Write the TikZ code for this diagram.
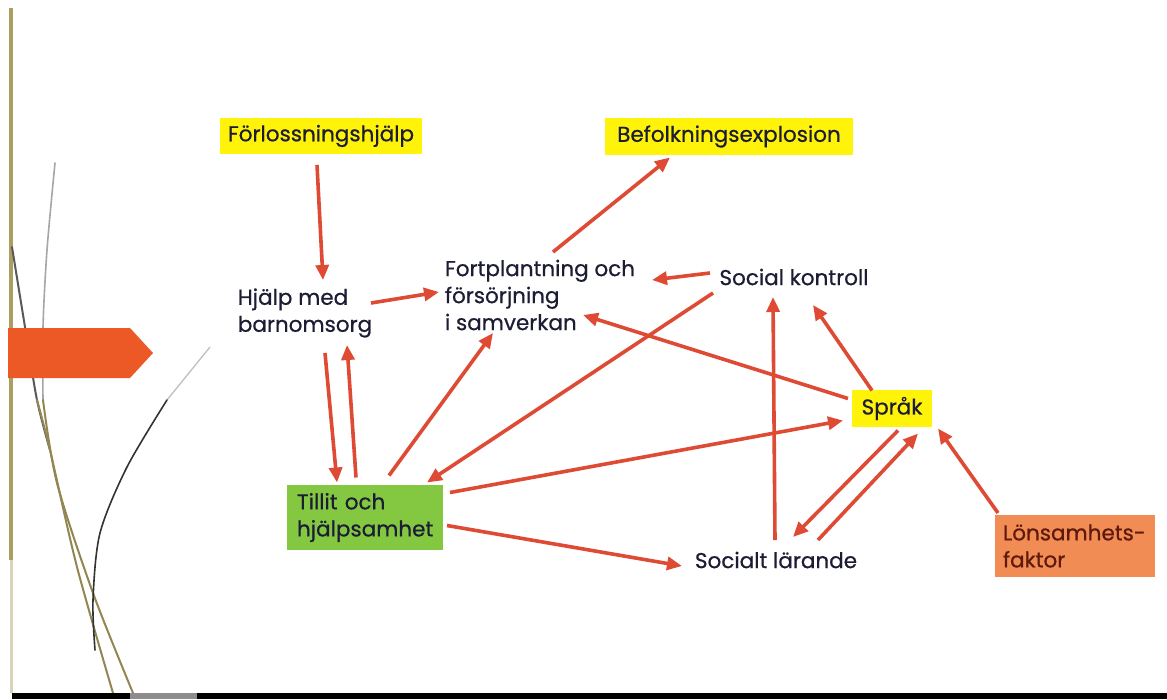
\documentclass[tikz,border=0pt]{standalone}
\usepackage{fontspec}
\setmainfont{Poppins}[FakeBold=0.6]
\usetikzlibrary{arrows.meta,calc}
\definecolor{arrred}{RGB}{222,74,52}
\definecolor{txtc}{RGB}{28,28,52}
\definecolor{ybox}{RGB}{255,243,10}
\definecolor{gbox}{RGB}{132,200,66}
\definecolor{obox}{RGB}{240,140,84}
\definecolor{otxt}{RGB}{95,25,12}
\definecolor{tanc}{RGB}{172,158,96}
\definecolor{leftarr}{RGB}{236,88,38}
\begin{document}
\begin{tikzpicture}[x=1pt,y=-1pt,
  every node/.style={font=\fontsize{21.5}{27}\selectfont, text=txtc},
  arr/.style={draw=arrred, line width=3.6pt, -{Triangle[length=15pt,width=13pt]}},
  ybx/.style={fill=ybox, inner sep=0pt, align=center},
  plain/.style={inner sep=0pt, align=left},
  deco/.style={line width=2pt, line cap=round}]
\useasboundingbox (0,0) rectangle (1167,699);
\fill[white] (0,0) rectangle (1167,699);

% decorative lines
\draw[tanc, line width=4.5pt] (11,8) -- (11,560);
\draw[tanc!45, line width=3pt] (11,560) -- (11,693);
\draw[deco, color=black!65] plot[smooth] coordinates {(12,247) (25,327) (37,400) (50,450)};
\draw[deco, color=tanc!85!black] plot[smooth] coordinates {(37,400) (50,450) (77,567) (113,693)};
\draw[deco, color=black!35, line width=1.6pt] plot[smooth] coordinates {(55,163) (47,250) (43,327) (43,400)};
\draw[deco, color=tanc!85!black] plot[smooth] coordinates {(43,400) (57,483) (93,593) (133,693)};
\draw[deco, color=black!25, line width=1.3pt] (210,347) -- (167,400);
\draw[deco, color=black!80, line width=1.6pt] plot[smooth] coordinates {(167,400) (127,467) (100,533) (93,600) (95,650)};
\fill[black] (12,693) rectangle (1167,699);
\fill[black!45] (130,693) rectangle (197,699);
\fill[leftarr] (8,328) -- (130,328) -- (153,353) -- (130,378) -- (8,378) -- cycle;

% nodes
\node[ybx, minimum width=202pt, minimum height=36pt] (forl) at (321,136) {Förlossningshjälp};
\node[ybx, minimum width=248pt, minimum height=37pt] (bef) at (729,136.5) {Befolkningsexplosion};
\node[plain] (hjalp) at (305,313) {Hjälp med\\barnomsorg};
\node[plain] (fort) at (540,295) {Fortplantning och\\försörjning\\i samverkan};
\node[plain] (sock) at (794,277) {Social kontroll};
\node[ybx, minimum width=80pt, minimum height=37pt] (sprak) at (892,408.5) {Språk};
\node[fill=gbox, align=left, inner xsep=10pt, inner ysep=0pt, text width=136pt, minimum height=65pt] (tillit) at (365,517.5) {Tillit och\\hjälpsamhet};
\node[plain] (socl) at (776,560) {Socialt lärande};
\node[fill=obox, align=left, text=otxt, inner xsep=8pt, inner ysep=0pt, text width=144pt, minimum height=62pt] (lons) at (1075,546) {Lönsamhets-\\faktor};

% connectors
\draw[arr] ($(forl.center)+(-4,29)$) -- ($(hjalp.center)+(18,-33)$);
\draw[arr] ($(hjalp.center)+(66,-10)$) -- ($(fort.center)+(-101,-3)$);
\draw[arr] ($(hjalp.center)+(20,40)$) -- ($(tillit.center)+(-28,-35)$);
\draw[arr] ($(tillit.center)+(-9,-40)$) -- ($(hjalp.center)+(42,32)$);
\draw[arr] ($(tillit.center)+(24,-42)$) -- ($(fort.center)+(-47,38)$);
\draw[arr] ($(fort.center)+(13,-43)$) -- ($(bef.center)+(-59,21)$);
\draw[arr] ($(sock.center)+(-84,-4)$) -- ($(fort.center)+(112,-15)$);
\draw[arr] ($(sock.center)+(-81,16)$) -- ($(tillit.center)+(62,-35)$);
\draw[arr] ($(sprak.center)+(-44,-10)$) -- ($(fort.center)+(43,20)$);
\draw[arr] ($(tillit.center)+(85,-25)$) -- ($(sprak.center)+(-49,12)$);
\draw[arr] ($(tillit.center)+(82,8)$) -- ($(socl.center)+(-94,6)$);
\draw[arr] ($(socl.center)+(-1,-20)$) -- ($(sock.center)+(-21,20)$);
\draw[arr] ($(sprak.center)+(-20,-18)$) -- ($(sock.center)+(19,28)$);
\draw[arr] ($(sprak.center)+(6,22)$) -- ($(socl.center)+(17,-23)$);
\draw[arr] ($(socl.center)+(42,-20)$) -- ($(sprak.center)+(26,25)$);
\draw[arr] ($(lons.center)+(-77,-33)$) -- ($(sprak.center)+(46,20)$);
\end{tikzpicture}
\end{document}
